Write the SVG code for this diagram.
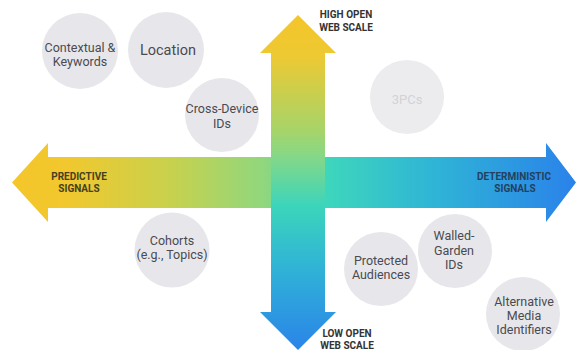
<svg xmlns="http://www.w3.org/2000/svg" width="577" height="350" viewBox="0 0 577 350">
  <defs>
    <!-- left-to-right fill: yellow → teal → blue -->
    <linearGradient id="gradH" gradientUnits="userSpaceOnUse" x1="10" y1="0" x2="576" y2="0">
      <stop offset="0" stop-color="#f4c62a"/>
      <stop offset="0.1" stop-color="#f1c82e"/>
      <stop offset="0.28" stop-color="#c9d14c"/>
      <stop offset="0.45" stop-color="#8fd77e"/>
      <stop offset="0.55" stop-color="#3ed8bb"/>
      <stop offset="0.75" stop-color="#2fb4d6"/>
      <stop offset="1" stop-color="#2a82ea"/>
    </linearGradient>
    <!-- top-to-bottom fill: yellow → teal → blue -->
    <linearGradient id="gradV" gradientUnits="userSpaceOnUse" x1="0" y1="15" x2="0" y2="350">
      <stop offset="0" stop-color="#f3c52a"/>
      <stop offset="0.12" stop-color="#eec932"/>
      <stop offset="0.34" stop-color="#a8d468"/>
      <stop offset="0.42" stop-color="#86d886"/>
      <stop offset="0.57" stop-color="#3bd5bb"/>
      <stop offset="0.75" stop-color="#30b4d6"/>
      <stop offset="1" stop-color="#2a84e9"/>
    </linearGradient>
  </defs>
  <style>
    .node circle { fill: #e7e7eb; }
    .node text { font-family: Roboto, "Liberation Sans", sans-serif; font-size: 12.5px; fill: #4a4a50; text-anchor: middle; }
    .axis { font-family: Roboto, "Liberation Sans", sans-serif; font-size: 10px; font-weight: bold; text-anchor: middle; }
  </style>
  <rect width="577" height="350" fill="#ffffff"/>

  <g id="connectors">
    <!-- horizontal axis: predictive ↔ deterministic -->
    <polygon id="axis-signals" fill="url(#gradH)" points="12,182.5 48,143 48,157 546,157 546,143 576,182.5 546,222 546,208 48,208 48,222"/>
    <!-- vertical axis: high ↔ low open web scale -->
    <polygon id="axis-scale" fill="url(#gradV)" points="298,15 336,53 325,53 325,312 336,312 298,350 260,312 271,312 271,53 260,53"/>
  </g>

  <g id="labels">
    <text class="axis" fill="#333333" x="346" y="18">HIGH OPEN</text>
    <text class="axis" fill="#333333" x="346" y="31">WEB SCALE</text>
    <text class="axis" fill="#333333" x="347" y="337">LOW OPEN</text>
    <text class="axis" fill="#333333" x="347" y="349">WEB SCALE</text>
    <text class="axis" fill="#45401f" x="79" y="180">PREDICTIVE</text>
    <text class="axis" fill="#45401f" x="79" y="192">SIGNALS</text>
    <text class="axis" fill="#23405e" x="514" y="180">DETERMINISTIC</text>
    <text class="axis" fill="#23405e" x="515" y="192">SIGNALS</text>
  </g>

  <g id="node-contextual" class="node">
    <circle cx="80" cy="51" r="38"/>
    <text x="80" y="52">Contextual &amp;</text>
    <text x="80" y="66">Keywords</text>
  </g>
  <g id="node-location" class="node">
    <circle cx="166" cy="50" r="38"/>
    <text x="168" y="55" style="font-size:14.5px">Location</text>
  </g>
  <g id="node-crossdevice" class="node">
    <circle cx="222" cy="115" r="37"/>
    <text x="222" y="113">Cross-Device</text>
    <text x="222" y="128">IDs</text>
  </g>
  <g id="node-3pcs" class="node">
    <circle cx="407" cy="97" r="37" style="fill:#ececef"/>
    <text x="407" y="104" style="fill:#d2d2d7;font-size:13px">3PCs</text>
  </g>
  <g id="node-cohorts" class="node">
    <circle cx="172" cy="250" r="37.5"/>
    <text x="172" y="245">Cohorts</text>
    <text x="172" y="259">(e.g., Topics)</text>
  </g>
  <g id="node-protected" class="node">
    <circle cx="381" cy="269" r="37"/>
    <text x="381" y="265">Protected</text>
    <text x="381" y="279">Audiences</text>
  </g>
  <g id="node-walledgarden" class="node">
    <circle cx="455" cy="251" r="37"/>
    <text x="454" y="240">Walled-</text>
    <text x="454" y="255">Garden</text>
    <text x="454" y="269">IDs</text>
  </g>
  <g id="node-altmedia" class="node">
    <circle cx="523" cy="314" r="37"/>
    <text x="524" y="306">Alternative</text>
    <text x="524" y="320">Media</text>
    <text x="524" y="334">Identifiers</text>
  </g>
</svg>
